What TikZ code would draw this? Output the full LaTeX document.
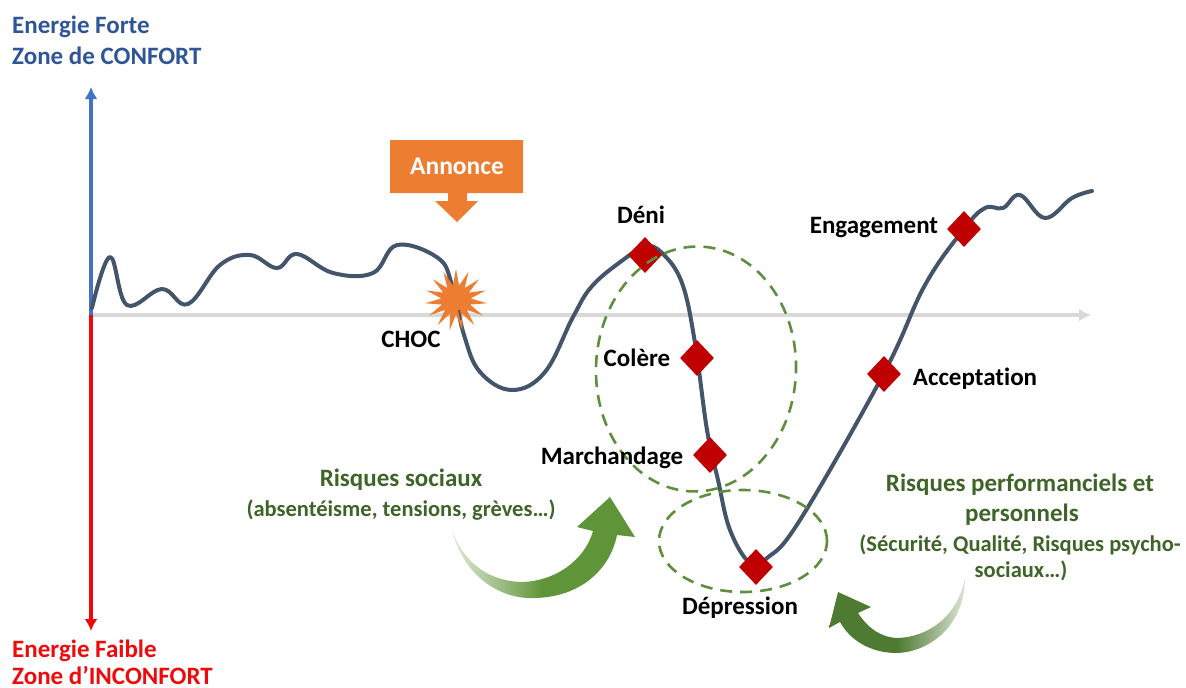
\documentclass[tikz,border=0pt]{standalone}
\usepackage{fontspec}
\setmainfont[Ligatures=NoCommon]{Carlito}
\usetikzlibrary{shapes.geometric,arrows.meta}
\definecolor{curvec}{HTML}{44546A}
\definecolor{orangec}{HTML}{ED7D31}
\definecolor{redd}{HTML}{C00000}
\definecolor{greent}{HTML}{3F6428}
\definecolor{greendash}{HTML}{5F8F3E}
\definecolor{greena}{HTML}{5F9438}
\definecolor{greenb}{HTML}{4F7A31}
\definecolor{bluet}{HTML}{2F5597}
\definecolor{bluea}{HTML}{4472C4}
\definecolor{reda}{HTML}{EE0A0A}
\tikzset{
  lab/.style={font=\fontsize{25}{29}\selectfont\bfseries,text=black,inner sep=0pt},
  glab/.style={font=\fontsize{25}{29}\selectfont\bfseries,text=greent,inner sep=0pt,align=center},
  gsmall/.style={font=\fontsize{22.5}{29}\selectfont\bfseries,text=greent,inner sep=0pt,align=center},
  axlab/.style={font=\fontsize{25}{29}\selectfont\bfseries,inner sep=0pt,anchor=base west},
  dia/.style={diamond,fill=redd,draw=none,minimum width=34pt,minimum height=36pt,inner sep=0pt},
  zone/.style={ellipse,draw=greendash,line width=2.6pt,dash pattern=on 12pt off 8pt,inner sep=0pt},
  ax/.style={line width=4pt,-{Latex[length=12pt,width=13pt]}},
  curveline/.style={draw=curvec,line width=4pt,line cap=round,line join=round},
}
\begin{document}
\begin{tikzpicture}[x=1pt,y=-1pt]
\useasboundingbox (0,0) rectangle (1186,688);
\coordinate (O) at (91,315);
\coordinate (T) at (91,87);
\coordinate (B) at (91,631);
\coordinate (R) at (1091,315);
\draw[ax,draw=black!15] (O) -- (R);
\draw[ax,draw=bluea] (O) -- (T);
\draw[ax,draw=reda] (O) -- (B);

\draw[curveline] plot[smooth,tension=0.65] coordinates {
(92,308) (110,257) (127,305) (162,289) (188,304)
(220,265) (250,255) (277,268) (297,254) (333,273) (373,273)
(397,245) (438,258) (452,285) (464,335) (480,372) (512,390) (545,372)
(573,317) (593,285) (627,257) (645,246) (662,253) (682,283) (695,343) (707,430)
(718,480) (730,530) (750,563) (767,558) (800,520) (884,373) (925,285)
(964,229) (985,208) (1003,208) (1020,195) (1045,218) (1072,198) (1092,191)};

\node[star,star points=15,star point ratio=2.1,fill=orangec,draw=none,minimum size=62pt,inner sep=0pt] (choc) at (456,300) {};
\draw[curvec,line width=1.6pt] (459,310) -- (461,320);

\fill[orangec] (390,140) -- (523,140) -- (523,193) -- (467,193) -- (467,201) -- (478,201) -- (457,222) -- (435,201) -- (448,201) -- (448,193) -- (390,193) -- cycle;
\node[font=\fontsize{25.5}{29}\selectfont\bfseries,text=white,inner sep=0pt] (ann) at (457,166) {Annonce};

\node[dia] (d1) at (645,255) {};
\node[dia] (d2) at (697,358) {};
\node[dia] (d3) at (710,455) {};
\node[dia] (d4) at (756,567) {};
\node[dia] (d5) at (884,374) {};
\node[dia] (d6) at (964,229) {};

\node[zone,minimum width=200pt,minimum height=245pt,rotate=-2] (z1) at (696,369) {};
\node[zone,minimum width=168pt,minimum height=102pt] (z2) at (743,541) {};

\node[lab] (t0) at (411,339) {CHOC};
\node[lab] (t1) at (641,215) {Déni};
\node[lab] (t2) at (637,358) {Colère};
\node[lab] (t3) at (612,458) {Marchandage};
\node[lab] (t4) at (740,608) {Dépression};
\node[lab] (t5) at (975,379) {Acceptation};
\node[lab] (t6) at (874,228) {Engagement};

\node[axlab,text=bluet] (e1) at (12,34) {Energie Forte};
\node[axlab,text=bluet] (e2) at (12,64) {Zone de CONFORT};
\node[axlab,text=reda] (e3) at (12,657) {Energie Faible};
\node[axlab,text=reda] (e4) at (12,684) {Zone d’INCONFORT};

\node[glab] (g1) at (401,480) {Risques sociaux};
\node[gsmall] (g2) at (401,510) {(absentéisme, tensions, grèves…)};
\node[glab] (g3) at (1020,485) {Risques performanciels et};
\node[glab] (g4) at (1022,515) {personnels};
\node[gsmall] (g5) at (1020,545) {(Sécurité, Qualité, Risques psycho-};
\node[gsmall] (g6) at (1021,571) {sociaux…)};

\shade[left color=greena!20,right color=greena,middle color=greena]
 (452,529) .. controls (462,575) and (500,600) .. (535,598)
 .. controls (580,597) and (610,570) .. (617,535)
 -- (635,537) -- (610,497) -- (577,527) -- (593,531)
 .. controls (585,560) and (555,582) .. (520,582)
 .. controls (485,580) and (462,560) .. (452,529) -- cycle;

\shade[right color=greenb!20,left color=greenb,middle color=greenb]
 (965,578) .. controls (965,625) and (930,652) .. (897,653)
 .. controls (870,653) and (850,640) .. (840,622)
 -- (829,628) -- (838,592) -- (871,607) -- (858,613)
 .. controls (868,628) and (880,637) .. (897,638)
 .. controls (930,637) and (958,615) .. (965,578) -- cycle;
\end{tikzpicture}
\end{document}
